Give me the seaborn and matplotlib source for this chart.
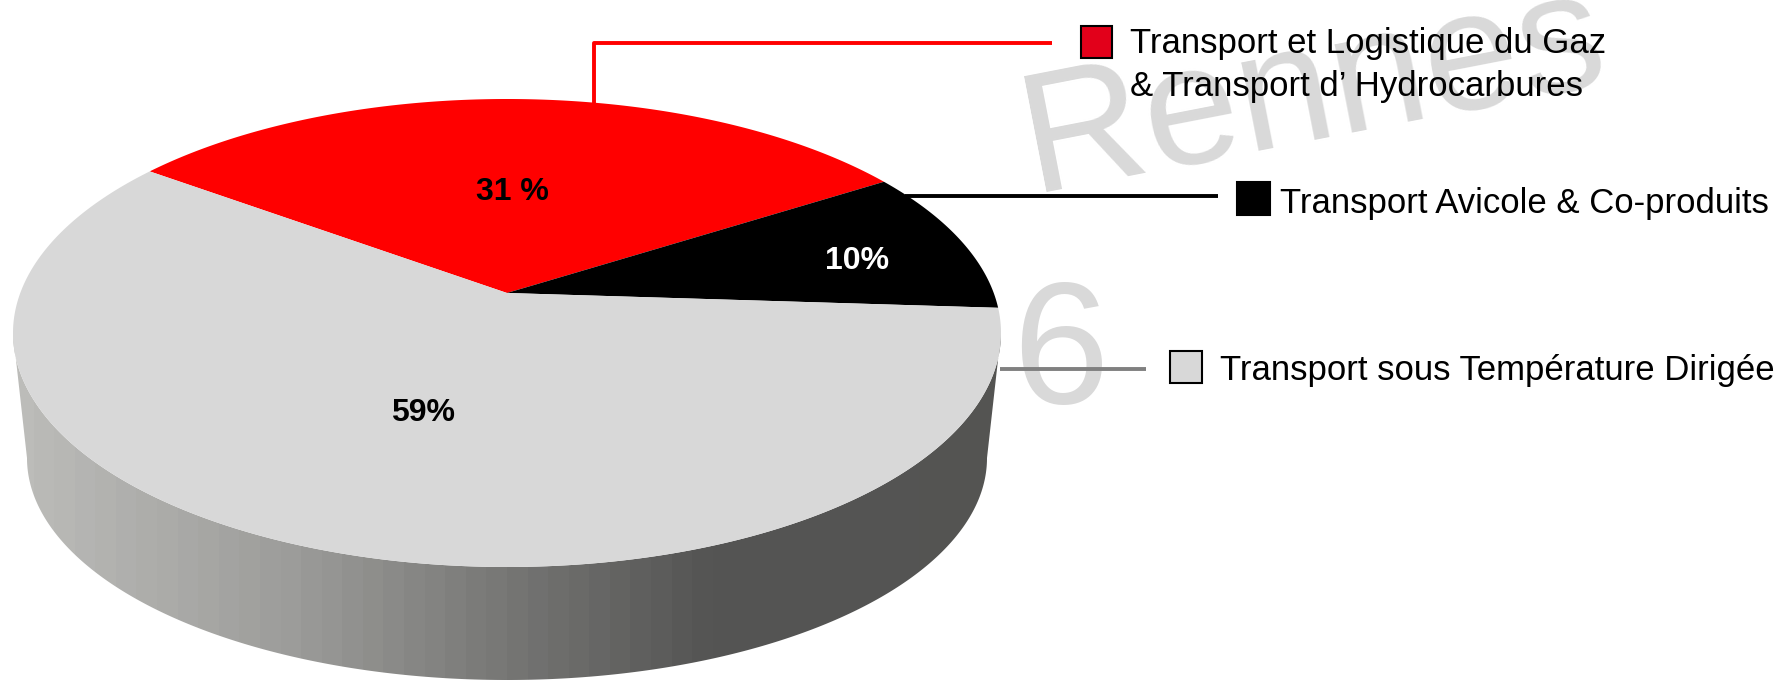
import numpy as np
import matplotlib
matplotlib.use("Agg")
import matplotlib.pyplot as plt
from matplotlib.patches import Polygon, Rectangle
import seaborn as sns

# ---------------- data ----------------
categories = ["Transport et Logistique du Gaz & Transport d’ Hydrocarbures",
              "Transport Avicole & Co-produits",
              "Transport sous Température Dirigée"]
legend_lines = [["Transport et Logistique du Gaz", "& Transport d’ Hydrocarbures"],
                ["Transport Avicole & Co-produits"],
                ["Transport sous Température Dirigée"]]
shares = [31, 10, 59]
share_labels = ["31 %", "10%", "59%"]
watermark_words = ["Rennes", "6"]

# ---------------- style ----------------
slice_colors = ["#ff0000", "#000000", "#d8d8d8"]
swatch_colors = ["#e2001a", "#000000", "#d8d8d8"]
line_colors = ["#ff0000", "#000000", "#808080"]
pct_colors = ["black", "white", "black"]

sns.set_theme(style="white")
plt.rcParams['font.family'] = ['Liberation Sans', 'DejaVu Sans']

W, H = 1787, 685
fig = plt.figure(figsize=(W / 100, H / 100), dpi=100)
ax = fig.add_axes([0, 0, 1, 1])

# pie geometry (pixel space), perspective tilt
cx, cy, a, b = 507, 333, 494, 234
tilt = 0.171
sq = np.sqrt(1 - tilt * tilt)
start_angle = 143.9
label_r = [0.48, 0.75, 0.51]
label_dang = [0.5, -3.2, 1.9]


def project(theta_deg, r=1.0):
    th = np.radians(theta_deg)
    X = r * np.cos(th)
    Y = r * np.sin(th)
    den = 1 + tilt * Y
    Xe = X * sq / den
    Ye = (Y + tilt) / den
    return cx + a * Xe, cy - b * Ye


# ---- side of the 3D pie (gradient) ----
phi = np.linspace(np.pi, 2 * np.pi, 400)
top_x = cx + a * np.cos(phi)
top_y = cy - b * np.sin(phi)
cx2, cy2, a2, b2 = 507, 458, 480, 222
bot_x = cx2 + a2 * np.cos(phi)
bot_y = cy2 - b2 * np.sin(phi)
side_xy = np.column_stack([np.r_[top_x, bot_x[::-1]], np.r_[top_y, bot_y[::-1]]])
side_patch = Polygon(side_xy, closed=True, fc="none", ec="none")
ax.add_patch(side_patch)

nb = 48
xb = np.linspace(cx - a, cx + a, nb)
gv = np.interp(xb, [13, 290, 520, 710, 1002], [188, 156, 116, 85, 84]) / 255.0
grad = np.stack([gv, gv, gv * 0.985], axis=-1)[None, :, :]
im = ax.imshow(grad, extent=(cx - a, cx + a, 690, 320), aspect="auto",
               interpolation="nearest", zorder=1)
im.set_clip_path(side_patch)

# ---- top face wedges ----
fracs = np.array(shares, dtype=float) / np.sum(shares)
edges = start_angle - np.r_[0, np.cumsum(fracs * 360)]
apex = project(0.0, 0.0)
for i in range(len(shares)):
    th = np.linspace(edges[i], edges[i + 1], 300)
    xs, ys = project(th)
    ax.fill(np.r_[apex[0], xs], np.r_[apex[1], ys], color=slice_colors[i],
            lw=0, zorder=2)
    mid = (edges[i] + edges[i + 1]) / 2 + label_dang[i]
    lx, ly = project(mid, label_r[i])
    ax.text(lx, ly, share_labels[i], ha="center", va="center", fontsize=23,
            fontweight="bold", color=pct_colors[i], zorder=4)

# ---- watermark ----
ax.text(1033, 192, watermark_words[0], rotation=11, rotation_mode="anchor",
        ha="left", va="baseline", fontsize=123, color="#d9d9d9", zorder=0.5)
ax.text(1060, 403, watermark_words[1], ha="center", va="baseline",
        fontsize=125, color="#d9d9d9", zorder=0.5)

# ---- callouts / legend ----
callouts = [([594, 594, 1052], [103, 43, 43]),
            ([905, 1218], [196, 196]),
            ([1000, 1146], [369, 369])]
swatches = [(1081, 26, 31, 32), (1237, 182, 33, 33), (1170, 351, 32, 32)]
text_x = [1130, 1280, 1220]
text_base = [[53, 96], [213], [380]]
for i in range(3):
    ax.plot(callouts[i][0], callouts[i][1], color=line_colors[i], lw=2.8,
            solid_capstyle="butt", zorder=3)
    x0, y0, w, h = swatches[i]
    ax.add_patch(Rectangle((x0, y0), w, h, fc=swatch_colors[i], ec="black",
                           lw=1.5, zorder=3))
    for line, yb in zip(legend_lines[i], text_base[i]):
        ax.text(text_x[i], yb, line, ha="left", va="baseline", fontsize=25,
                color="black", zorder=4)

ax.set_xlim(0, W)
ax.set_ylim(H, 0)
ax.axis("off")
fig.savefig("out.png", dpi=100, facecolor="white")
